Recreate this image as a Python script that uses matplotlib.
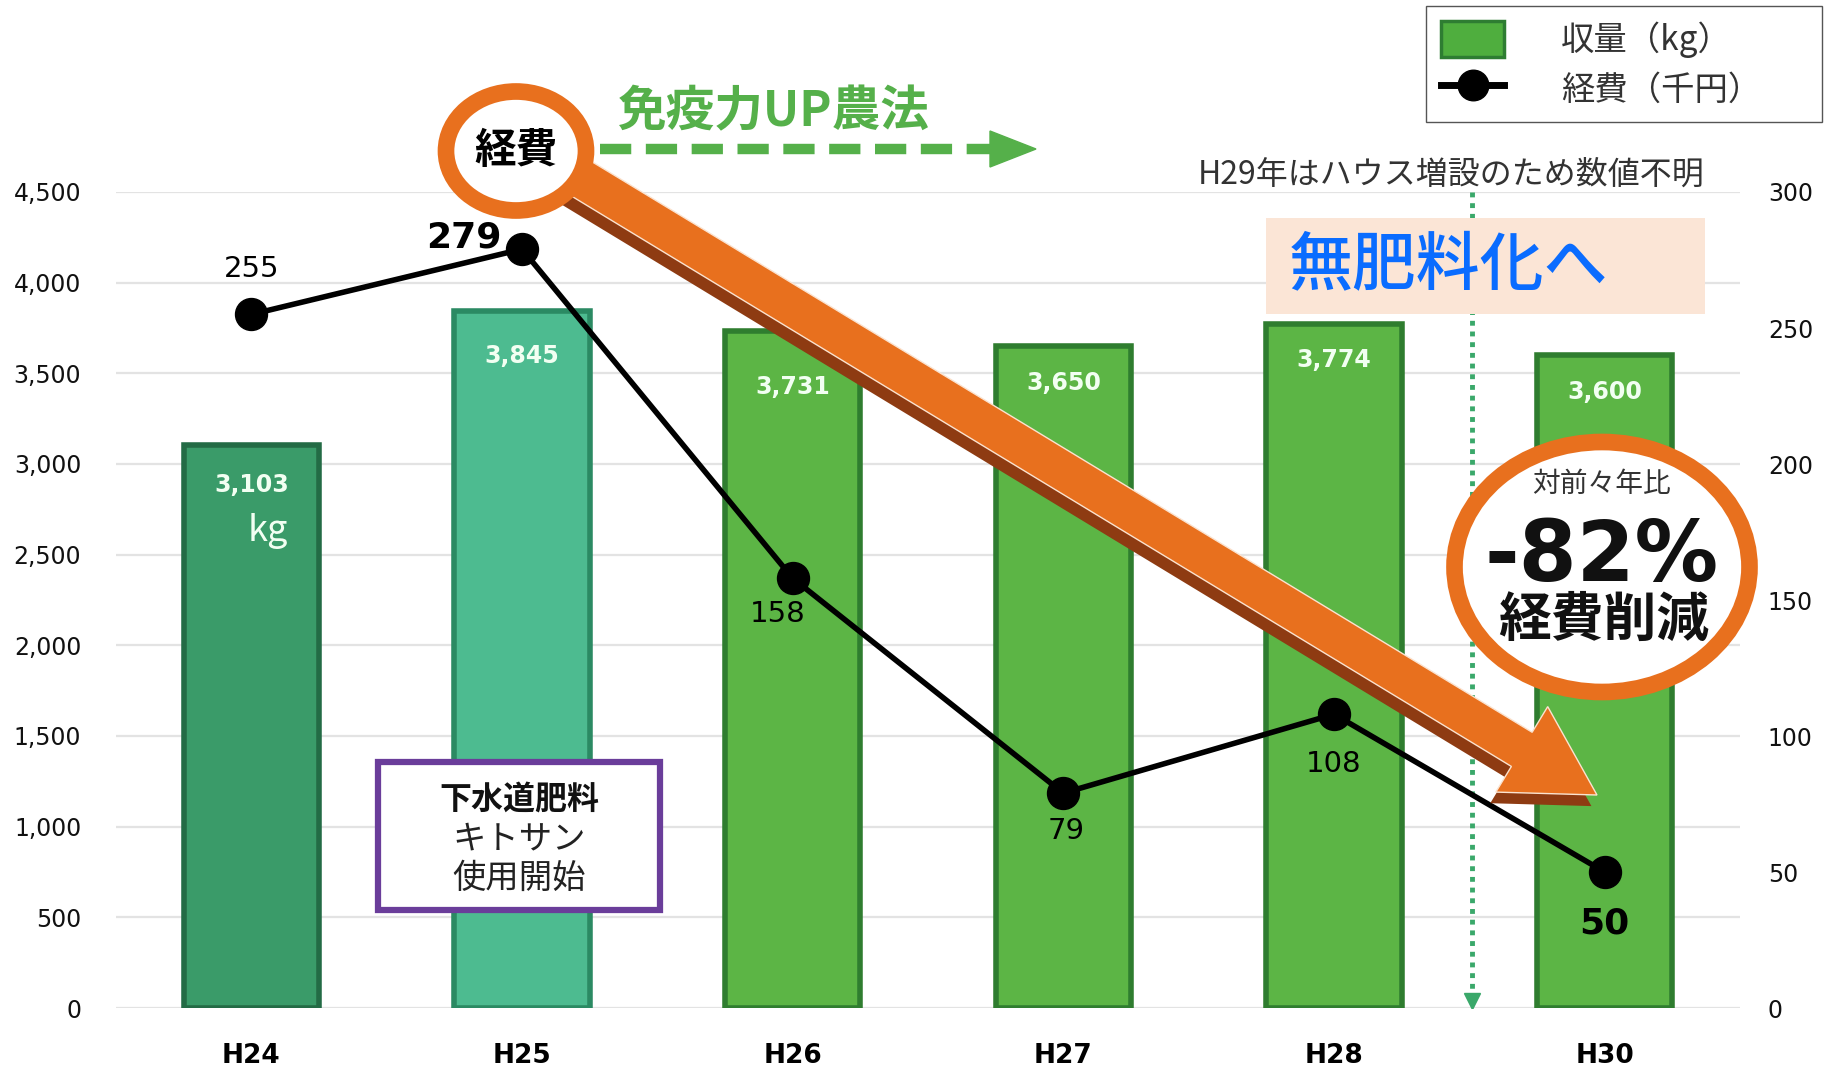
import matplotlib.pyplot as plt
import matplotlib.patches as mpatches
import matplotlib.patheffects as pe
from matplotlib.lines import Line2D
from matplotlib.ticker import FuncFormatter
import numpy as np

plt.rcParams['font.family'] = ['Noto Sans CJK JP', 'DejaVu Sans']

# data
years = ['H24', 'H25', 'H26', 'H27', 'H28', 'H30']
harvest = [3103, 3845, 3731, 3650, 3774, 3600]      # 収量 (kg)
cost = [255, 279, 158, 79, 108, 50]                  # 経費 (千円)
bar_colors = ['#3a9b69', '#4dbb90', '#5cb545', '#5cb545', '#5cb545', '#5cb545']
edge_colors = ['#236b45', '#2b8a63', '#2f7d2f', '#2f7d2f', '#2f7d2f', '#2f7d2f']
# label offsets (pixels)
bar_label_dy = [-40, -45, -56, -37, -36, -37]
cost_offsets = [(0, 45), (-58, 12), (-15, -36), (3, -38), (0, -50), (0, -52)]
cost_bold = [False, True, False, False, False, True]

fig = plt.figure(figsize=(18.25, 10.66), dpi=100)
ax = fig.add_axes([116 / 1825, 58 / 1066, 1624 / 1825, 816 / 1066])
ax2 = ax.twinx()

x = np.arange(len(years))

# bars
ax.bar(x, harvest, width=0.5, color=bar_colors, edgecolor=edge_colors,
       linewidth=4, zorder=3)
for xi, h, dy in zip(x, harvest, bar_label_dy):
    ax.annotate(f'{h:,}', (xi, h), xytext=(0, dy), textcoords='offset pixels',
                ha='center', va='center', fontsize=17, fontweight='bold',
                color='#f2fff2', family='DejaVu Sans', zorder=4)
ax.annotate('kg', (x[0], harvest[0]), xytext=(16, -86), textcoords='offset pixels',
            ha='center', va='center', fontsize=26, color='#f2fff2', zorder=4)

ax.set_xlim(-0.5, 5.5)
ax.set_ylim(0, 4500)
ax.set_yticks(np.arange(0, 4501, 500))
ax.yaxis.set_major_formatter(FuncFormatter(lambda v, p: f'{int(v):,}'))
ax.set_xticks(x)
ax.set_xticklabels(years, fontsize=19, fontweight='bold', family='DejaVu Sans')
ax.tick_params(axis='y', length=0, pad=25, labelsize=17, labelcolor='#111')
ax.tick_params(axis='x', length=0, pad=25)
for lab in ax.get_yticklabels():
    lab.set_family('DejaVu Sans')
ax.grid(axis='y', color='#e3e3e3', linewidth=1.6, zorder=0)
ax.set_axisbelow(True)

# vertical dotted marker for missing H29
ax.plot([4.51, 4.51], [4500, 70], color='#3aa86a', lw=3.5, ls=(0, (1, 1.2)), zorder=2)
ax.plot([4.51], [40], marker='v', color='#3aa86a', markersize=11, zorder=2)

# cost line
ax2.plot(x, cost, color='black', lw=4, marker='o', markersize=23, zorder=5)
ax2.set_ylim(0, 300)
ax2.set_yticks(np.arange(0, 301, 50))
ax2.tick_params(axis='y', length=0, pad=20, labelsize=17, labelcolor='#111')
for lab in ax2.get_yticklabels():
    lab.set_family('DejaVu Sans')
for xi, c, off, b in zip(x, cost, cost_offsets, cost_bold):
    ax2.annotate(str(c), (xi, c), xytext=off, textcoords='offset pixels',
                 ha='center', va='center', family='DejaVu Sans',
                 fontsize=26 if b else 21, fontweight='bold' if b else 'normal',
                 color='black')

for a in (ax, ax2):
    for s in a.spines.values():
        s.set_visible(False)

# legend
handles = [mpatches.Patch(facecolor='#4fae3e', edgecolor='#2e7d32', linewidth=2.5),
           Line2D([], [], color='black', lw=5, marker='o', markersize=22)]
fig.legend(handles, ['収量（kg）', '経費（千円）'], loc='upper left',
           bbox_to_anchor=(1426 / 1825, 0.0, 396 / 1825, 1 - 6 / 1066), mode='expand',
           fontsize=24, frameon=True,
           fancybox=False, edgecolor='#555', framealpha=1,
           handlelength=1.9, handleheight=1.3, handletextpad=1.7,
           labelspacing=0.35, borderpad=0.45, borderaxespad=0, labelcolor='#333')

# overlay in pixel coordinates for annotations
ov = fig.add_axes([0, 0, 1, 1], zorder=10)
ov.set_xlim(0, 1825)
ov.set_ylim(1066, 0)
ov.axis('off')

orange = '#e8701e'
arrow = mpatches.FancyArrow(516, 139, 1081, 656, width=40, head_width=100,
                            head_length=88, length_includes_head=True,
                            facecolor=orange, edgecolor='#fbe3d0', linewidth=1, zorder=2)
arrow.set_path_effects([pe.SimplePatchShadow(offset=(-4, -8), shadow_rgbFace='#8e3b12', alpha=1),
                        pe.Normal()])
ov.add_patch(arrow)

c1 = mpatches.Ellipse((516, 151), 140, 119, facecolor='white', edgecolor=orange,
                      linewidth=12, zorder=3)
c1.set_path_effects([pe.SimplePatchShadow(offset=(3, -3), shadow_rgbFace='#999', alpha=0.6),
                     pe.Normal()])
ov.add_patch(c1)
ov.text(516, 151, '経費', ha='center', va='center', fontsize=30, fontweight='bold', zorder=4)

# green dashed arrow
green = '#55b04a'
ov.plot([600, 992], [149, 149], color=green, lw=7.5, ls=(0, (3, 1.4)),
        dash_capstyle='butt', zorder=2)
ov.add_patch(mpatches.Polygon([(990, 131), (1036, 149), (990, 167)], closed=True,
                              color=green, zorder=2))
ov.text(774, 112, '免疫力UP農法', ha='center', va='center', fontsize=35,
        fontweight='bold', color=green, zorder=2)

ov.text(1705, 175, 'H29年はハウス増設のため数値不明', ha='right', va='center',
        fontsize=23, color='#333', zorder=2)

ov.add_patch(mpatches.Rectangle((1266, 218), 439, 96, facecolor='#fbe5d6',
                                edgecolor='none', zorder=2))
ov.text(1289, 266, '無肥料化へ', ha='left', va='center', fontsize=46,
        fontweight='medium', color='#0a6cff', zorder=3)

# -82% badge
c2 = mpatches.Ellipse((1602, 567), 295, 250, facecolor='white', edgecolor=orange,
                      linewidth=12, zorder=5)
c2.set_path_effects([pe.SimplePatchShadow(offset=(4, -4), shadow_rgbFace='#888', alpha=0.6),
                     pe.Normal()])
ov.add_patch(c2)
ov.text(1602, 484, '対前々年比', ha='center', va='center', fontsize=20, color='#333', zorder=6)
ov.text(1602, 558, '-82%', ha='center', va='center', fontsize=60, fontweight='bold',
        family='DejaVu Sans', color='#111', zorder=6)
ov.text(1604, 620, '経費削減', ha='center', va='center', fontsize=38,
        fontweight='bold', color='#111', zorder=6)

# purple note box
ov.add_patch(mpatches.Rectangle((378, 762), 282, 148, facecolor='white',
                                edgecolor='#6a3d9a', linewidth=4.5, zorder=2))
ov.text(519, 800, '下水道肥料', ha='center', va='center', fontsize=23,
        fontweight='bold', color='#111', zorder=3)
ov.text(519, 839, 'キトサン', ha='center', va='center', fontsize=24, color='#222', zorder=3)
ov.text(519, 878, '使用開始', ha='center', va='center', fontsize=24, color='#222', zorder=3)

fig.savefig('out.png', dpi=100)
